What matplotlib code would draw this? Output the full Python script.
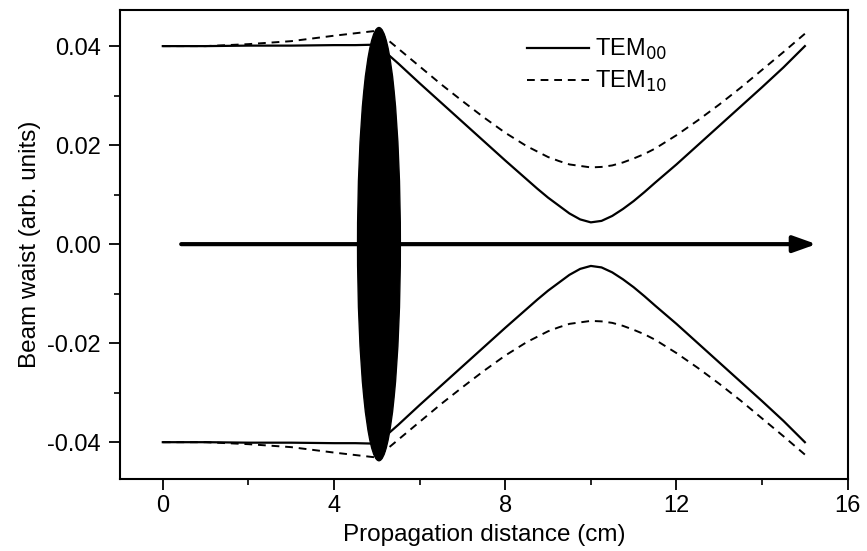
import matplotlib
matplotlib.use('Agg')
import matplotlib.pyplot as plt
from matplotlib.patches import Ellipse
import numpy as np

plt.rcParams['font.family'] = ['Liberation Sans', 'DejaVu Sans']
plt.rcParams['axes.unicode_minus'] = False

# 光束半径 (上半支), 下半支取负值
x_pos = [0, 1, 2, 3, 4, 4.5, 5, 5.5, 6, 6.5, 7, 7.5, 8, 8.5, 8.75, 9, 9.25, 9.5, 9.75, 10,
         10.25, 10.5, 10.75, 11, 11.25, 11.5, 12, 12.5, 13, 13.5, 14, 14.5, 15]
tem00 = [0.0400, 0.0400, 0.0401, 0.0401, 0.0402, 0.0402, 0.0403, 0.0365, 0.0325,
         0.0286, 0.0247, 0.0208, 0.0169, 0.0131, 0.0112, 0.0094, 0.0078, 0.0062, 0.0050, 0.0044,
         0.0047, 0.0057, 0.0071, 0.0087, 0.0105, 0.0124, 0.0161, 0.0200, 0.0239, 0.0278,
         0.0317, 0.0357, 0.0400]
tem10 = [0.0400, 0.0400, 0.0404, 0.0410, 0.0421, 0.0426, 0.0431, 0.0395, 0.0359,
         0.0323, 0.0289, 0.0256, 0.0225, 0.0198, 0.0187, 0.0176, 0.0168, 0.0161, 0.0158, 0.0155,
         0.0156, 0.0159, 0.0165, 0.0173, 0.0182, 0.0193, 0.0220, 0.0250, 0.0282, 0.0316,
         0.0352, 0.0388, 0.0425]

lens_x = 5.05
lens_w = 1.0
lens_h = 0.0875
arrow_start = 0.43
arrow_end = 15.27

fig = plt.figure(figsize=(8.67, 5.51), dpi=100)
ax = fig.add_axes([0.1384, 0.1301, 0.9777 - 0.1384, 0.9819 - 0.1301])

x = np.array(x_pos)
a00 = np.array(tem00)
a10 = np.array(tem10)

ax.plot(x, a00, color='black', lw=1.6, label='TEM$_{00}$', zorder=2)
ax.plot(x, a10, color='black', lw=1.4, ls=(0, (4, 3)), label='TEM$_{10}$', zorder=2)
ax.plot(x, -a00, color='black', lw=1.6, zorder=2)
ax.plot(x, -a10, color='black', lw=1.4, ls=(0, (4, 3)), zorder=2)

# 透镜
ax.add_patch(Ellipse((lens_x, 0), lens_w, lens_h, facecolor='black', edgecolor='black', zorder=3))

# 光轴箭头
ax.annotate('', xy=(arrow_end, 0), xytext=(arrow_start, 0),
            arrowprops=dict(arrowstyle='-|>,head_length=0.7,head_width=0.25',
                            lw=3, color='black', mutation_scale=20,
                            shrinkA=0, shrinkB=0), zorder=4)

ax.set_xlim(-1, 16)
ax.set_ylim(-0.0475, 0.0473)
ax.set_xticks([0, 4, 8, 12, 16])
ax.set_xticks([2, 6, 10, 14], minor=True)
ax.set_yticks([-0.04, -0.02, 0.0, 0.02, 0.04])
ax.set_yticks([-0.03, -0.01, 0.01, 0.03], minor=True)
ax.set_yticklabels(['-0.04', '-0.02', '0.00', '0.02', '0.04'])

ax.tick_params(which='major', direction='out', length=8, width=1.3, labelsize=17)
ax.tick_params(which='minor', direction='out', length=4, width=1.2)
ax.tick_params(axis='x', pad=3)
ax.tick_params(axis='y', pad=6)
for s in ax.spines.values():
    s.set_linewidth(1.5)

ax.set_xlabel('Propagation distance (cm)', fontsize=17.5, labelpad=5)
ax.set_ylabel('Beam waist (arb. units)', fontsize=17.5, labelpad=4)

ax.legend(loc='upper left', bbox_to_anchor=(0.537, 0.978), frameon=False, fontsize=17,
          handlelength=2.6, handletextpad=0.25, labelspacing=0.3, borderpad=0.2)

fig.savefig('out.png', dpi=100)
